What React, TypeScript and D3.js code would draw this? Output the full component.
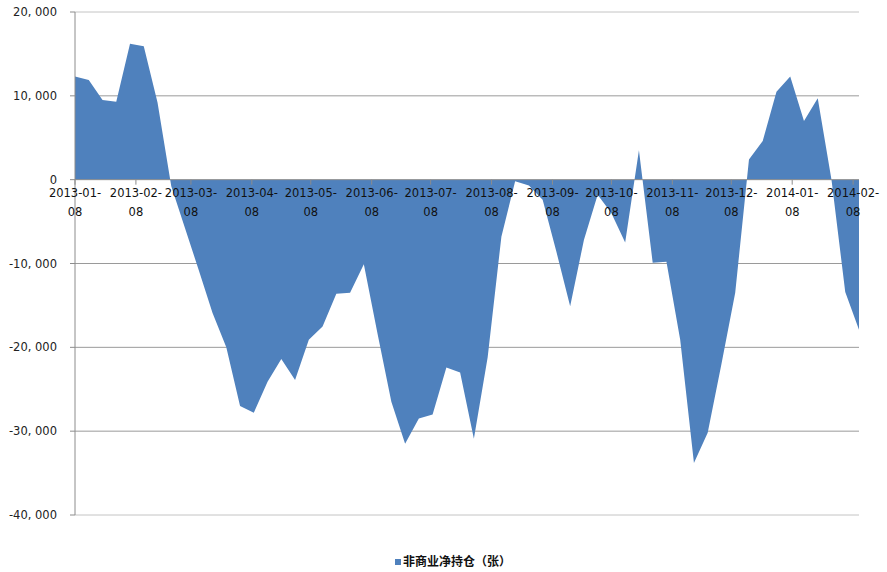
import React, { useEffect, useRef } from 'react';
import * as d3 from 'd3';

// weekly report dates (Tuesdays)
const dates = [
  '2013-01-08', '2013-01-15', '2013-01-22', '2013-01-29', '2013-02-05', '2013-02-12', '2013-02-19', '2013-02-26',
  '2013-03-05', '2013-03-12', '2013-03-19', '2013-03-26', '2013-04-02', '2013-04-09', '2013-04-16', '2013-04-23',
  '2013-04-30', '2013-05-07', '2013-05-14', '2013-05-21', '2013-05-28', '2013-06-04', '2013-06-11', '2013-06-18',
  '2013-06-25', '2013-07-02', '2013-07-09', '2013-07-16', '2013-07-23', '2013-07-30', '2013-08-06', '2013-08-13',
  '2013-08-20', '2013-08-27', '2013-09-03', '2013-09-10', '2013-09-17', '2013-09-24', '2013-10-01', '2013-10-08',
  '2013-10-15', '2013-10-22', '2013-10-29', '2013-11-05', '2013-11-12', '2013-11-19', '2013-11-26', '2013-12-03',
  '2013-12-10', '2013-12-17', '2013-12-24', '2013-12-31', '2014-01-07', '2014-01-14', '2014-01-21', '2014-01-28',
  '2014-02-04', '2014-02-11',
];

const netPositions = [
  12300, 11900, 9500, 9300, 16200, 15900, 9200, -800,
  -5800, -10800, -15900, -20000, -27000, -27800, -24100, -21400,
  -23900, -19100, -17500, -13600, -13500, -10100, -18400, -26500,
  -31500, -28500, -28000, -22400, -23000, -30900, -21200, -6800,
  -200, -700, -2400, -8600, -15100, -7200, -1800, -4000,
  -7500, 3500, -9900, -9800, -19100, -33800, -30200, -22000,
  -13500, 2400, 4600, 10500, 12300, 7000, 9700, 0,
  -13400, -17900,
];

const xTickDates = [
  '2013-01-08', '2013-02-08', '2013-03-08', '2013-04-08', '2013-05-08', '2013-06-08', '2013-07-08',
  '2013-08-08', '2013-09-08', '2013-10-08', '2013-11-08', '2013-12-08', '2014-01-08', '2014-02-08',
];

const yTicks = [20000, 10000, 0, -10000, -20000, -30000, -40000];

const seriesName = '非商业净持仓（张）';

const W = 887;
const H = 572;

const App: React.FC = () => {
  const svgRef = useRef<SVGSVGElement>(null);

  useEffect(() => {
    document.body.style.margin = '0';
    if (!svgRef.current) return;
    const svg = d3.select(svgRef.current);
    svg.selectAll('*').remove();

    const parse = d3.timeParse('%Y-%m-%d');
    const data = dates.map((d, i) => ({ date: parse(d) as Date, value: netPositions[i] }));

    const left = 75;
    const right = 859;
    const top = 12;
    const bottom = 515;

    const x = d3.scaleTime()
      .domain([data[0].date, data[data.length - 1].date])
      .range([left, right]);
    const y = d3.scaleLinear().domain([-40000, 20000]).range([bottom, top]);

    const fmt = d3.format(',');
    const font = '"DejaVu Sans", sans-serif';

    // gridlines
    svg.append('g')
      .selectAll('line')
      .data(yTicks.filter(t => t !== 0))
      .join('line')
      .attr('x1', left)
      .attr('x2', right)
      .attr('y1', d => y(d))
      .attr('y2', d => y(d))
      .attr('stroke', d => (d === 20000 || d === -40000 ? '#c4c4c4' : '#9a9a9a'))
      .attr('stroke-width', 1);

    // area
    const area = d3.area<{ date: Date; value: number }>()
      .x(d => x(d.date))
      .y0(y(0))
      .y1(d => y(d.value));

    svg.append('path')
      .datum(data)
      .attr('d', area)
      .attr('fill', '#4f81bd');

    // y axis line + ticks
    svg.append('line')
      .attr('x1', left).attr('x2', left)
      .attr('y1', top).attr('y2', bottom)
      .attr('stroke', '#8c8c8c');

    svg.append('g')
      .selectAll('line')
      .data(yTicks)
      .join('line')
      .attr('x1', left - 5)
      .attr('x2', left)
      .attr('y1', d => y(d))
      .attr('y2', d => y(d))
      .attr('stroke', '#8c8c8c');

    svg.append('g')
      .selectAll('text')
      .data(yTicks)
      .join('text')
      .attr('x', 57)
      .attr('y', d => y(d))
      .attr('dy', '0.35em')
      .attr('text-anchor', 'end')
      .attr('font-family', font)
      .attr('font-size', 11.5)
      .attr('fill', '#222')
      .text(d => fmt(d).replace('−', '-').replace(',', ', '));

    // zero axis line
    svg.append('line')
      .attr('x1', left).attr('x2', right)
      .attr('y1', y(0)).attr('y2', y(0))
      .attr('stroke', '#8c8c8c');

    const ticks = xTickDates.map(d => ({ label: d, date: parse(d) as Date }));

    svg.append('g')
      .selectAll('line')
      .data(ticks)
      .join('line')
      .attr('x1', d => x(d.date))
      .attr('x2', d => x(d.date))
      .attr('y1', y(0))
      .attr('y2', y(0) + 5)
      .attr('stroke', '#8c8c8c');

    const lbl = svg.append('g')
      .selectAll('g')
      .data(ticks)
      .join('g')
      .attr('transform', d => `translate(${x(d.date)},0)`);

    lbl.append('text')
      .attr('y', 197)
      .attr('text-anchor', 'middle')
      .attr('font-family', font)
      .attr('font-size', 11.5)
      .attr('fill', '#111')
      .text(d => d.label.slice(0, 8));

    lbl.append('text')
      .attr('y', 216)
      .attr('text-anchor', 'middle')
      .attr('font-family', font)
      .attr('font-size', 11.5)
      .attr('fill', '#111')
      .text(d => d.label.slice(8));

    // legend
    svg.append('rect')
      .attr('x', 395)
      .attr('y', 559)
      .attr('width', 6)
      .attr('height', 6)
      .attr('fill', '#4f81bd');

    svg.append('text')
      .attr('x', 403)
      .attr('y', 562)
      .attr('dy', '0.35em')
      .attr('font-family', '"Noto Sans CJK SC", sans-serif')
      .attr('font-weight', 'bold')
      .attr('font-size', 12)
      .attr('fill', '#111')
      .text(seriesName);
  }, []);

  return <svg ref={svgRef} width={W} height={H} style={{ display: 'block', background: '#fff' }} />;
};

export default App;
